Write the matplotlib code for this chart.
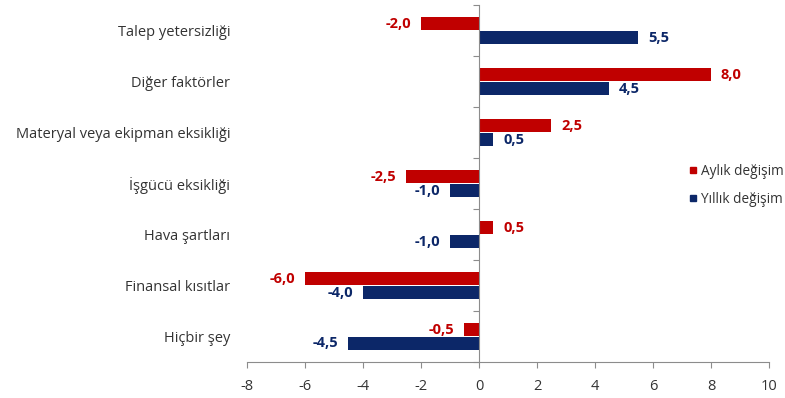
import matplotlib.pyplot as plt
import numpy as np
from matplotlib.lines import Line2D

plt.rcParams['font.family'] = ['Open Sans', 'DejaVu Sans']

categories = ['Talep yetersizliği', 'Diğer faktörler', 'Materyal veya ekipman eksikliği',
              'İşgücü eksikliği', 'Hava şartları', 'Finansal kısıtlar', 'Hiçbir şey']
aylik = [-2.0, 8.0, 2.5, -2.5, 0.5, -6.0, -0.5]
yillik = [5.5, 4.5, 0.5, -1.0, -1.0, -4.0, -4.5]
xticks = [-8, -6, -4, -2, 0, 2, 4, 6, 8, 10]

red = '#C00000'
navy = '#0C2768'
grey = '#8C8C8C'

fig = plt.figure(figsize=(7.85, 3.98), dpi=100)
ax = fig.add_axes([0.3146, 0.0905, 0.665, 0.8965])

y = np.arange(len(categories))
h = 0.255
off = 0.137
ax.barh(y - off, aylik, height=h, color=red)
ax.barh(y + off, yillik, height=h, color=navy)

def fmt(v):
    return f'{v:.1f}'.replace('.', ',')

for yy, vals, col in ((y - off, aylik, red), (y + off, yillik, navy)):
    for yi, v in zip(yy, vals):
        ax.annotate(fmt(v), (v, yi), xytext=(7 if v > 0 else -7, 0),
                    textcoords='offset points', va='center',
                    ha='left' if v > 0 else 'right',
                    color=col, fontsize=10.5, fontweight='bold')

ax.set_xlim(-8, 10)
ax.set_ylim(len(categories) - 0.5, -0.5)
ax.set_xticks(xticks)
ax.set_xticklabels([str(t) for t in xticks])
ax.set_yticks(y)
ax.set_yticklabels(categories)
ax.tick_params(axis='y', length=0, pad=12, labelsize=10.5, labelcolor='#333333')
ax.tick_params(axis='x', direction='out', length=4, color=grey, labelsize=10.5,
               labelcolor='#333333', pad=8)
for s in ('top', 'right', 'left'):
    ax.spines[s].set_visible(False)
ax.spines['bottom'].set_color(grey)

# vertical axis line at zero with tick marks between groups
ax2 = ax.twinx()
ax2.set_ylim(ax.get_ylim())
ax2.yaxis.set_ticks_position('left')
ax2.spines['left'].set_position(('data', 0))
ax2.spines['left'].set_color(grey)
for s in ('top', 'right', 'bottom'):
    ax2.spines[s].set_visible(False)
ax2.set_yticks(np.arange(len(categories) + 1) - 0.5)
ax2.set_yticklabels([])
ax2.tick_params(axis='y', direction='out', length=4, color=grey)

handles = [Line2D([], [], marker='s', linestyle='none', color=red, markersize=4.5),
           Line2D([], [], marker='s', linestyle='none', color=navy, markersize=4.5)]
ax.legend(handles, ['Aylık değişim', 'Yıllık değişim'], loc='center left',
          bbox_to_anchor=(0.82, 0.495), frameon=False, fontsize=9.8,
          handlelength=0.8, handletextpad=0.2, labelspacing=1.0,
          labelcolor='#333333')

fig.savefig('out.png', dpi=100)
